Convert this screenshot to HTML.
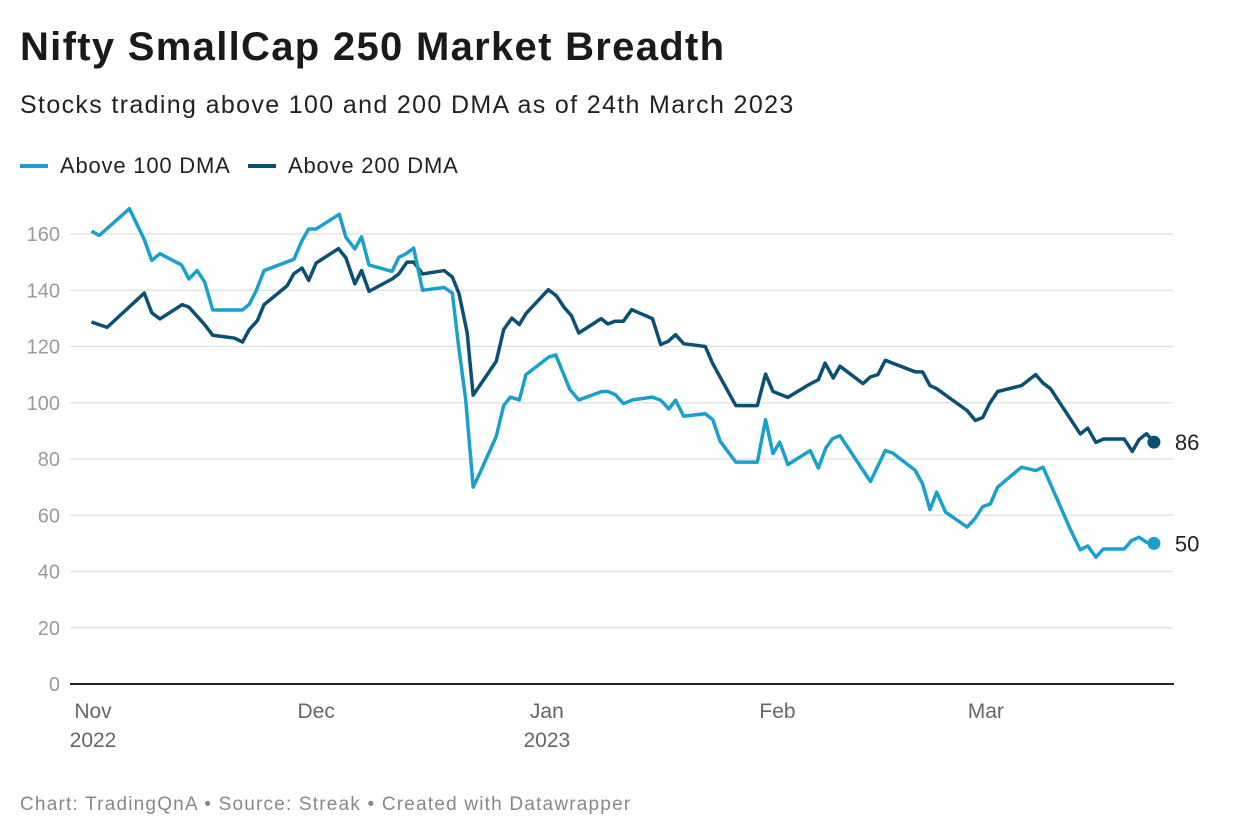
<!DOCTYPE html>
<html><head><meta charset="utf-8">
<style>
body{margin:0;background:#fff;font-family:"Liberation Sans",sans-serif;}
#wrap{position:relative;width:1240px;height:840px;overflow:hidden}
h1{position:absolute;left:20px;top:25px;margin:0;font-size:40px;font-weight:bold;color:#1a1a1a;letter-spacing:1.3px}
.sub{position:absolute;left:20px;top:91px;font-size:25px;color:#222;letter-spacing:1.35px}
.leg{position:absolute;top:153px;font-size:22px;color:#222;display:flex;align-items:center;letter-spacing:0.8px}
.leg span.sw{display:inline-block;width:28px;height:4px;margin-right:12px}
.foot{position:absolute;left:20px;top:794px;font-size:19px;color:#888;letter-spacing:1.2px}
</style></head>
<body><div id="wrap">
<h1>Nifty SmallCap 250 Market Breadth</h1>
<div class="sub">Stocks trading above 100 and 200 DMA as of 24th March 2023</div>
<div class="leg" style="left:20px"><span class="sw" style="background:#1aa0cd"></span>Above 100 DMA</div>
<div class="leg" style="left:248px"><span class="sw" style="background:#0b4f75"></span>Above 200 DMA</div>
<svg id="chart" width="1240" height="840" style="position:absolute;left:0;top:0"></svg>
<div class="foot">Chart: TradingQnA • Source: Streak • Created with Datawrapper</div>
</div>
<script>
// day offsets from 1 Nov 2022
const days100=[0.2,1.25,5.3,7.3,8.3,9.4,12.3,13.3,14.4,15.4,16.5,20.5,21.4,22.3,23.4,27.4,28.5,29.4,30.4,33.5,34.4,35.6,36.5,37.5,40.6,41.5,42.5,43.5,44.7,47.6,48.7,49.5,50.5,51.5,52.5,54.6,55.6,56.5,57.7,58.6,61.7,62.6,64.5,65.7,68.8,69.6,70.6,71.7,72.9,75.6,76.7,77.8,78.7,79.8,82.7,83.7,84.7,86.8,89.7,90.8,91.8,92.7,93.8,96.8,97.9,98.9,99.8,100.8,104.9,106.9,107.9,110.9,111.9,112.9,113.8,115,117.9,119,120,121,122,125.2,127.1,128.1,131.8,133.1,134.1,135.2,136.2,139,140,141,142,143];
const vals100=[161,159.5,169,158,150.6,153,149,144,147,143,133,133,135,139.6,147,151,157.7,161.8,161.8,167,158.8,154.7,159,149,146.7,151.7,153,155,140,141,139,121,101,70,75.6,88,99,102,101,110,116.3,117,104.7,101,104,104,102.9,99.7,101,102,100.9,97.8,100.9,95.2,96.1,94,86.3,78.9,78.9,94,81.9,86,78,83,76.8,83.9,87.2,88.3,72,83,82.1,76,71.2,62,68.2,61.1,55.8,59,63.1,64,70,77.1,75.9,77.1,54.8,47.7,49.1,45.1,48,48,51,52.2,50.4,50];
const days200=[0.2,2.3,7.3,8.3,9.4,12.4,13.3,15.4,16.5,19.4,20.5,21.4,22.5,23.4,26.5,27.4,28.5,29.4,30.4,33.4,34.4,35.6,36.5,37.5,40.6,41.5,42.6,43.5,44.7,47.6,48.7,49.6,50.7,51.5,54.6,55.6,56.7,57.7,58.6,61.6,62.7,63.7,64.7,65.7,68.7,69.6,70.6,71.7,72.8,75.6,76.7,77.7,78.7,79.8,82.7,83.7,86.8,89.7,90.8,91.8,93.8,96.6,97.9,98.8,99.9,100.8,103.9,104.9,105.9,106.9,110.9,111.9,112.9,113.8,117.9,119,120,120.9,122,125.2,127.1,128.1,129.1,133.1,134.1,135.2,136.2,139,140.1,141,142,143];
const vals200=[128.7,126.8,139,132,129.8,134.9,134,127.8,124,123,121.6,126,129.2,134.9,141.6,145.9,147.9,143.5,149.7,154.8,151.5,142.3,147,139.6,144,145.8,150,150,145.8,147,144.7,138.8,124.8,102.7,114.7,126,130.1,127.8,131.7,140.2,138,134,131,124.8,129.9,128,129,129,133.1,129.9,120.7,121.8,124.2,121,120,113.9,99,99,110.2,104,101.9,106.4,108.2,114.1,108.8,113,106.8,109.2,110,115.1,111,111,106.1,105,97.2,93.7,94.8,99.7,104,106.1,110,107,105,88.9,91,85.9,87.1,87.1,82.7,86.9,89,86];
const yTicks=[0,20,40,60,80,100,120,140,160];
const monthDays=[0,30,61,92,120];
const monthLabels=["Nov","Dec","Jan","Feb","Mar"];
const yearLabels=["2022","","2023","",""];

const NS="http://www.w3.org/2000/svg";
const svg=document.getElementById('chart');
const X=d=>90+d*7.44;
const Y=v=>684-v*2.8125;
function mk(t,a){const e=document.createElementNS(NS,t);for(const k in a)e.setAttribute(k,a[k]);svg.appendChild(e);return e;}
yTicks.forEach(t=>{
  if(t>0){const g=mk('line',{x1:70,x2:1173,y1:Y(t),y2:Y(t),stroke:'#e3e3e3','stroke-width':1.5});
  
  }
  const l=mk('text',{x:60,y:Y(t)+7,'text-anchor':'end','font-size':20,fill:'#9a9a9a','font-family':'Liberation Sans, sans-serif'});
  l.textContent=t;
  
  
});
const ax=mk('line',{x1:70,x2:1174,y1:684,y2:684,stroke:'#222','stroke-width':2});


monthDays.forEach((d,i)=>{
  const t=mk('text',{x:X(d)+3,y:718,'text-anchor':'middle','font-size':21,fill:'#666','font-family':'Liberation Sans, sans-serif'});
  t.textContent=monthLabels[i];
  
  
  if(yearLabels[i]){const y=mk('text',{x:X(d)+3,y:747,'text-anchor':'middle','font-size':21,fill:'#666','font-family':'Liberation Sans, sans-serif'});
  y.textContent=yearLabels[i];
  
  }
});
function series(ds,vs,col,name){
  const p=mk('polyline',{points:ds.map((d,i)=>X(d)+','+Y(vs[i])).join(' '),fill:'none',stroke:col,'stroke-width':3.5,'stroke-linejoin':'round'});
  
  
  const n=ds.length-1;
  const c=mk('circle',{cx:X(ds[n]),cy:Y(vs[n]),r:6.5,fill:col});
  
  
  const t=mk('text',{x:X(ds[n])+21,y:Y(vs[n])+8,'font-size':22,fill:'#222','font-family':'Liberation Sans, sans-serif'});
  t.textContent=Math.round(vs[n]);
  
  
}
series(days200,vals200,'#0b4f75','above-200-dma');
series(days100,vals100,'#1aa0cd','above-100-dma');
</script>
</body></html>
